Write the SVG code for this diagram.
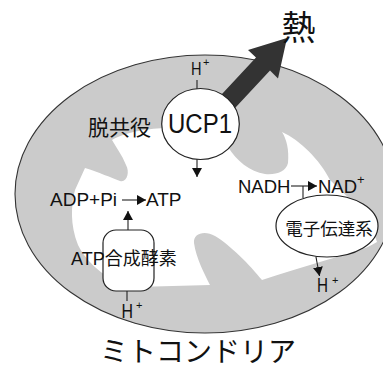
<svg xmlns="http://www.w3.org/2000/svg" width="383" height="369" viewBox="0 0 383 369">
  <style>
    .lat { font-family: "Liberation Sans", Arial, sans-serif; fill: #111; }
    .jp { font-family: "Noto Sans CJK JP", "Noto Sans CJK SC", sans-serif; fill: #111; }
    .mix { font-family: "Liberation Sans", "Noto Sans CJK JP", sans-serif; fill: #111; }
    .ln { stroke: #222; stroke-width: 1.1; fill: none; }
    .shape { fill: #fff; stroke: #222; stroke-width: 1.2; }
  </style>
  <defs>
    <marker id="head" markerUnits="userSpaceOnUse" markerWidth="10" markerHeight="10" refX="9" refY="5" orient="auto">
      <path d="M0,0 L9,5 L0,10 Z" fill="#111"/>
    </marker>
  </defs>

  <rect width="383" height="369" fill="#fff"/>

  <!-- mitochondrion: outer membrane with matrix and cristae -->
  <g id="mitochondrion">
    <ellipse cx="205" cy="194" rx="190" ry="139" fill="#cbcbcb" stroke="#333" stroke-width="1.1"/>
    <path fill="#fff" d="M112,140 C125,132 150,128 168,128 L200,125 L228,147
      C236,160 250,172 265,174 C276,175 286,172 288,163
      C289,150 287,140 282,132
      C300,140 320,160 330,180 C342,192 352,200 360,210
      C368,222 374,232 377,242
      C365,250 345,254 320,262 C300,268 280,274 262,280
      C250,265 230,245 215,236 C205,230 193,233 194,243
      C196,258 205,275 210,285 L135,287
      C110,283 88,265 78,245 C70,225 71,205 75,190 L85,168
      C98,172 112,178 120,181 C127,183 130,172 126,165
      C122,155 116,147 112,140 Z"/>
  </g>

  <!-- connectors -->
  <g id="connectors">
    <polygon id="heat-arrow" fill="#333" points="215,101.5 256,57.5 248,50 287,38 278,78.5 270,70.5 229,114.5"/>
    <line class="ln" x1="197" y1="80" x2="197" y2="89"/>
    <line class="ln" x1="197" y1="159" x2="197" y2="177" marker-end="url(#head)"/>
    <line class="ln" x1="122" y1="200" x2="146" y2="200" marker-end="url(#head)"/>
    <line class="ln" x1="128" y1="230" x2="128" y2="211" marker-end="url(#head)"/>
    <line class="ln" x1="127" y1="291" x2="127" y2="301"/>
    <line class="ln" x1="291" y1="186" x2="317" y2="186" marker-end="url(#head)"/>
    <line class="ln" x1="303" y1="186" x2="303" y2="198"/>
    <line class="ln" x1="316" y1="257" x2="319.5" y2="276" marker-end="url(#head)"/>
  </g>

  <!-- uncoupling protein -->
  <g id="ucp1">
    <ellipse class="shape" cx="200.5" cy="124" rx="38.8" ry="35.5"/>
    <text class="lat" x="200" y="133" font-size="27" text-anchor="middle" textLength="64" lengthAdjust="spacingAndGlyphs">UCP1</text>
  </g>

  <g id="proton-top">
    <text class="lat" x="191" y="75" font-size="18" textLength="10.5" lengthAdjust="spacingAndGlyphs">H</text>
    <text class="lat" x="203" y="66" font-size="11">+</text>
  </g>

  <g id="uncoupling-label">
    <text class="jp" x="88" y="134.5" font-size="21">脱共役</text>
  </g>

  <g id="heat">
    <text class="jp" x="298.5" y="40" font-size="34" text-anchor="middle">熱</text>
  </g>

  <g id="adp-reaction">
    <text class="lat" x="50" y="206" font-size="19">ADP+Pi</text>
    <text class="lat" x="146" y="206" font-size="19">ATP</text>
  </g>

  <!-- ATP synthase -->
  <g id="atp-synthase">
    <rect class="shape" x="103" y="230" width="51" height="61" rx="13"/>
    <text class="mix" x="71" y="264.5" font-size="18">ATP合成酵素</text>
  </g>

  <g id="proton-bottom">
    <text class="lat" x="121.5" y="318" font-size="20" textLength="11.5" lengthAdjust="spacingAndGlyphs">H</text>
    <text class="lat" x="136" y="309" font-size="11">+</text>
  </g>

  <g id="nadh-reaction">
    <text class="lat" x="238" y="193" font-size="18.5">NADH</text>
    <text class="lat" x="318" y="193" font-size="18.5">NAD</text>
    <text class="lat" x="357" y="184" font-size="13">+</text>
  </g>

  <!-- electron transport chain -->
  <g id="etc">
    <ellipse class="shape" cx="327" cy="226" rx="51" ry="31"/>
    <text class="jp" x="329" y="235" font-size="17.5" text-anchor="middle">電子伝達系</text>
  </g>

  <g id="proton-right">
    <text class="lat" x="317" y="292" font-size="21" textLength="11" lengthAdjust="spacingAndGlyphs">H</text>
    <text class="lat" x="332" y="284" font-size="11">+</text>
  </g>

  <g id="caption">
    <text class="jp" x="198" y="362" font-size="28" text-anchor="middle">ミトコンドリア</text>
  </g>
</svg>
